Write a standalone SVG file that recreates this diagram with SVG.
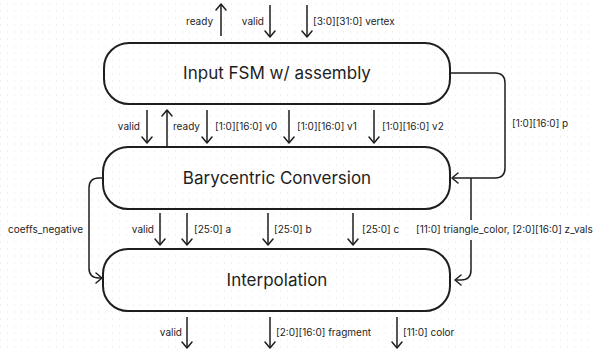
<svg xmlns="http://www.w3.org/2000/svg" width="595" height="352" viewBox="0 0 595 352">
<defs>
<pattern id="dots" x="0" y="3.5" width="7" height="7" patternUnits="userSpaceOnUse">
<rect x="0" y="0" width="1" height="1" fill="#e2e2e2"/>
</pattern>
<marker id="ah" viewBox="0 0 10 12" refX="9" refY="6" markerWidth="10" markerHeight="12" markerUnits="userSpaceOnUse" orient="auto">
<path d="M3,1 L9,6 L3,11" fill="none" stroke="#1e1e1e" stroke-width="1.5" stroke-linecap="round" stroke-linejoin="round"/>
</marker>
<style>
.node{fill:none;stroke:#1e1e1e;stroke-width:2}
.nt{font-family:Inter,"Liberation Sans",sans-serif;font-size:17px;fill:#1e1e1e;text-anchor:middle}
.lb{font-family:Inter,"Liberation Sans",sans-serif;font-size:10px;fill:#1e1e1e}
.e{text-anchor:end}
.c{fill:none;stroke:#1e1e1e;stroke-width:1.5;marker-end:url(#ah)}
</style>
</defs>
<rect width="595" height="352" fill="#ffffff"/>
<rect width="595" height="352" fill="url(#dots)"/>

<g id="input_fsm">
<rect class="node" x="104" y="43" width="346" height="61" rx="25"/>
<text class="nt" x="277" y="79">Input FSM w/ assembly</text>
</g>
<g id="barycentric">
<rect class="node" x="103" y="147" width="347" height="62" rx="25"/>
<text class="nt" x="277" y="184">Barycentric Conversion</text>
</g>
<g id="interpolation">
<rect class="node" x="103" y="249" width="347" height="62" rx="25"/>
<text class="nt" x="277" y="286">Interpolation</text>
</g>

<g id="connectors">
<!-- top -->
<path class="c" d="M221,36 V4"/>
<path class="c" d="M270,5 V37"/>
<path class="c" d="M307,5 V37"/>
<!-- fsm -> bary -->
<path class="c" d="M147,110 V143"/>
<path class="c" d="M167,146 V110"/>
<path class="c" d="M207,110 V143"/>
<path class="c" d="M289,110 V143"/>
<path class="c" d="M374,110 V143"/>
<!-- bary -> interp -->
<path class="c" d="M160,213 V245"/>
<path class="c" d="M187,213 V245"/>
<path class="c" d="M268,213 V245"/>
<path class="c" d="M353,213 V245"/>
<!-- bottom -->
<path class="c" d="M187,317 V348"/>
<path class="c" d="M270,317 V348"/>
<path class="c" d="M397,317 V348"/>
<!-- p -->
<path class="c" d="M450,73 H495 Q505,73 505,83 V168 Q505,178 495,178 H452"/>
<!-- triangle color -->
<path class="c" d="M471,178 V270 Q471,280 461,280 H455"/>
<!-- coeffs negative -->
<path class="c" d="M103,178 H99 Q89,178 89,188 V268 Q89,278 99,278 H102"/>
</g>

<g id="labels">
<text class="lb e" x="213" y="25">ready</text>
<text class="lb e" x="264" y="25">valid</text>
<text class="lb" x="313" y="25">[3:0][31:0] vertex</text>

<text class="lb e" x="140" y="130">valid</text>
<text class="lb" x="173" y="130">ready</text>
<text class="lb" x="215" y="130">[1:0][16:0] v0</text>
<text class="lb" x="297" y="130">[1:0][16:0] v1</text>
<text class="lb" x="382" y="130">[1:0][16:0] v2</text>
<text class="lb" x="512" y="127">[1:0][16:0] p</text>

<text class="lb e" x="83" y="233">coeffs_negative</text>
<text class="lb e" x="154" y="233">valid</text>
<text class="lb" x="194" y="233">[25:0] a</text>
<text class="lb" x="274" y="233">[25:0] b</text>
<text class="lb" x="362" y="233">[25:0] c</text>
<rect x="414" y="220" width="181" height="20" fill="#ffffff"/>
<text class="lb" x="416" y="233">[11:0] triangle_color, [2:0][16:0] z_vals</text>

<text class="lb e" x="182" y="336">valid</text>
<text class="lb" x="276" y="336">[2:0][16:0] fragment</text>
<text class="lb" x="403" y="336">[11:0] color</text>
</g>
</svg>
